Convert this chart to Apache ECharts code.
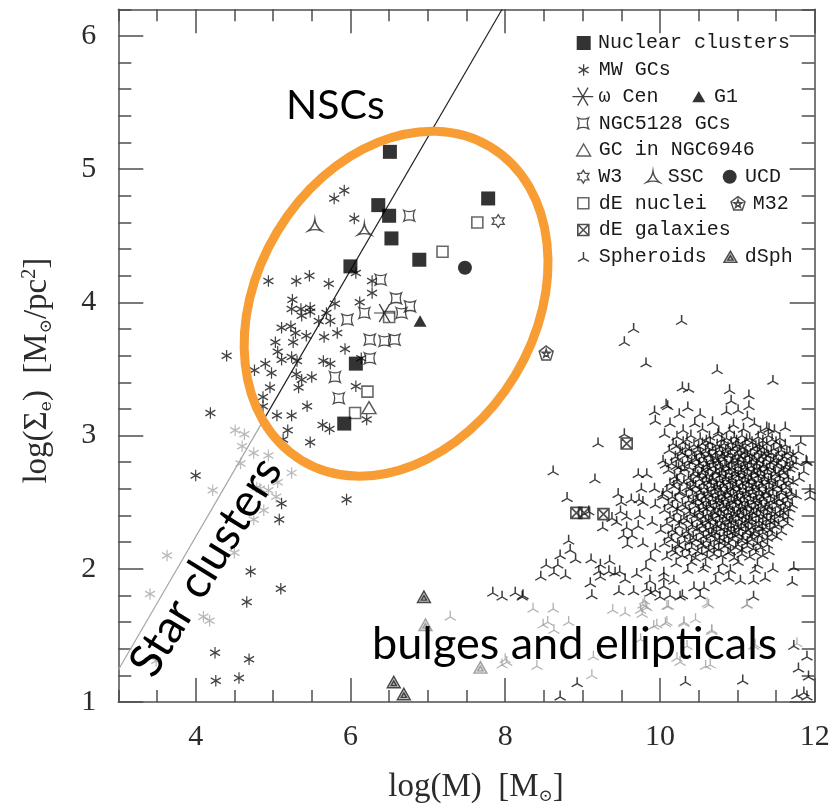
<!DOCTYPE html>
<html>
<head>
<meta charset="utf-8">
<script src="https://cdn.jsdelivr.net/npm/echarts@6/dist/echarts.min.js"></script>
<style>
  html, body { margin: 0; padding: 0; background: #fff; }
  #chart { width: 837px; height: 810px; }
</style>
</head>
<body>
<div id="chart"></div>
<script>
// ---- Data: log(M) [Msun] vs log(Sigma_e) [Msun/pc^2] ----
const nuclearClusters = [[6.51,5.13],[7.78,4.78],[6.36,4.73],[6.50,4.65],[6.53,4.48],[6.89,4.32],[6.00,4.27],[6.07,3.54],[5.92,3.09]];
const dENuclei = [[7.64,4.60],[7.19,4.38],[6.50,3.89],[6.22,3.33],[6.06,3.17]];
const gcNGC6946 = [[6.24,3.21]];
const g1 = [[6.90,3.86]];
const ucd = [[7.48,4.26]];
const w3 = [[7.91,4.61]];
const m32 = [[8.53,3.62]];
const omegaCen = [[6.44,3.92]];
const ssc = [[5.54,4.58],[6.18,4.55]];
const ngc5128GCs = [[6.76,4.65],[6.39,4.17],[6.59,4.03],[6.77,3.97],[6.18,3.92],[5.96,3.87],[6.66,3.92],[6.25,3.72],[6.44,3.71],[6.57,3.72],[6.25,3.58],[5.80,3.44],[5.85,3.28]];
const mwGCs = [
  [5.92,4.84],[5.79,4.78],[6.05,4.63],[4.94,4.16],[5.30,4.16],[5.47,4.20],[5.72,4.14],[6.07,4.22],[6.28,4.16],[6.28,4.07],[4.40,3.60],
  [5.25,4.02],[5.24,3.95],[5.36,3.95],[5.48,3.96],[5.37,3.90],[5.48,3.93],[5.80,3.99],[5.69,3.92],[5.59,3.86],[5.74,3.86],[6.12,4.00],
  [5.11,3.81],[5.29,3.77],[5.23,3.82],[5.43,3.75],[5.66,3.74],[5.83,3.77],[5.03,3.70],[5.26,3.70],[5.93,3.65],[5.11,3.57],[5.24,3.59],
  [5.31,3.56],[4.90,3.54],[4.76,3.49],[4.98,3.47],[5.65,3.56],[5.74,3.54],[5.30,3.46],[5.37,3.42],[5.50,3.44],[5.33,3.36],[4.96,3.36],
  [4.87,3.29],[4.87,3.22],[5.44,3.22],[5.05,3.15],[5.24,3.15],[6.07,3.37],[5.64,3.08],[5.73,3.05],[6.21,3.12],[5.19,3.04],[5.13,2.97],
  [5.48,2.95],[6.14,3.58],[5.06,3.63],
  [4.19,3.17],[4.00,2.70],[5.11,2.49],[5.08,2.37],[4.71,1.98],[5.10,1.85],[4.66,1.75],[4.25,1.37],[4.69,1.32],[4.26,1.16],[4.56,1.18],[5.95,2.52]
];
const youngClusters = [
  [4.51,3.04],[4.63,3.01],[4.60,2.92],[4.75,2.87],[4.94,2.85],[4.58,2.79],[4.22,2.59],[4.83,2.60],[4.94,2.59],[5.06,2.65],[5.04,2.54],
  [4.88,2.44],[4.75,2.37],[5.24,2.72],[4.50,2.12],[3.63,2.10],[3.41,1.81],[4.10,1.64],[4.18,1.61],[3.49,1.31],[4.79,2.61]
];
const dEGalaxies = [[9.57,2.94],[8.92,2.42],[9.02,2.42],[9.27,2.41]];
const dSph = [[6.95,1.79],[6.56,1.15],[6.69,1.06]];
const dSphFaint = [[6.97,1.58],[7.68,1.26]];
const spheroidsOuter = [
  [10.28,3.87],[9.66,3.81],[9.54,3.71],[9.82,3.55],[10.74,3.50],[11.46,3.42],[10.29,3.37],[10.37,3.36],[10.90,3.35],[11.15,3.31],
  [10.08,3.24],[9.93,3.19],[9.94,3.12],[10.06,3.02],[9.54,3.02],[9.20,2.95],[8.62,2.74],[9.16,2.68],[8.80,2.54],[10.04,2.82],
  [9.72,2.72],[9.83,2.72],[9.76,2.61],[9.93,2.61],[9.46,2.57],[9.50,2.51],[9.63,2.53],[9.73,2.53],[10.04,2.57],[9.78,2.51],
  [9.94,2.49],[9.08,2.44],[9.49,2.44],[9.38,2.39],[9.44,2.36],[9.57,2.40],[9.74,2.41],[9.26,2.32],[9.57,2.32],[9.72,2.33],
  [9.90,2.36],[10.01,2.30],[9.64,2.26],[9.53,2.26],[9.58,2.19],[9.78,2.20],[9.94,2.16],[8.82,2.22],[8.71,2.11],[8.84,2.15],
  [8.91,2.08],[8.53,2.04],[8.68,2.04],[8.63,1.98],[8.78,1.96],[8.46,1.95],[9.11,2.08],[9.23,2.04],[9.35,2.07],[9.21,1.99],
  [9.34,1.99],[9.42,1.98],[9.48,1.99],[9.10,1.90],[9.23,1.95],[9.55,1.93],[9.70,1.97],[9.82,2.02],[9.88,2.09],[10.05,1.98],
  [9.66,1.84],[9.47,1.84],[9.83,1.86],[10.05,1.88],[9.12,1.81],[8.23,1.81],
  [7.84,1.83],[7.96,1.80],[8.13,1.83],[8.22,1.80],[9.88,1.83],[10.00,1.80],[10.26,1.80],[10.52,1.81],[11.21,1.80],
  [8.93,1.15],[8.71,1.05],[10.33,1.16],[11.07,1.17],[11.77,1.06],[11.86,1.08],[11.90,1.05],[11.73,1.43],[11.79,1.26],[11.90,1.35],
  [11.92,1.20],[11.73,2.02],[11.71,1.91],[11.82,2.96],[11.90,2.81],[11.94,2.55],[11.62,3.07],[11.41,3.06],
  [10.92,3.27],[11.15,3.23],[11.01,3.20],[11.13,3.15],[10.10,3.23],[10.25,3.17],[10.36,3.22],[10.52,3.17],[10.86,3.19],[10.13,3.10],
  [11.38,3.07],[11.79,2.89],[11.89,2.82],[11.86,2.74],[11.94,2.60],[10.07,2.79],[10.24,2.77],[10.22,2.66],[10.03,2.55],
  [9.87,1.92],[10.05,1.94],[10.18,1.92],[9.94,1.85],[10.13,1.81],[10.29,1.81],[10.44,1.87],[10.57,1.87],[10.72,1.92],[10.89,1.94],
  [11.04,1.92],[11.21,1.92],[11.36,1.94],[10.91,2.00]
];
const spheroidsCore = [
  [10.45,3.10],[10.68,3.11],[10.95,3.09],[11.22,3.10],
  [10.30,3.05],[10.55,3.06],[10.76,3.04],[10.90,3.05],[11.08,3.06],[11.30,3.04],[11.48,3.05],
  [10.22,3.00],[10.40,3.01],[10.52,2.99],[10.64,3.00],[10.75,3.02],[10.86,2.99],[10.96,3.00],[11.06,3.01],[11.16,2.99],[11.27,3.00],[11.40,3.01],[11.55,2.99],
  [10.17,2.95],[10.30,2.96],[10.44,2.94],[10.55,2.95],[10.65,2.96],[10.74,2.94],[10.83,2.95],[10.92,2.96],[11.01,2.94],[11.10,2.95],[11.19,2.96],[11.28,2.94],[11.38,2.95],[11.50,2.96],[11.62,2.94],
  [10.12,2.90],[10.26,2.89],[10.38,2.91],[10.49,2.90],[10.59,2.89],[10.68,2.91],[10.77,2.90],[10.85,2.89],[10.94,2.91],[11.03,2.90],[11.11,2.89],[11.20,2.91],[11.29,2.90],[11.38,2.89],[11.47,2.91],[11.57,2.90],[11.68,2.89],
  [10.20,2.85],[10.33,2.86],[10.45,2.84],[10.54,2.85],[10.63,2.86],[10.72,2.84],[10.80,2.85],[10.88,2.86],[10.97,2.84],[11.05,2.85],[11.13,2.86],[11.22,2.84],[11.31,2.85],[11.40,2.86],[11.50,2.84],[11.61,2.85],[11.72,2.86],
  [10.15,2.80],[10.29,2.79],[10.41,2.81],[10.51,2.80],[10.60,2.79],[10.68,2.81],[10.76,2.80],[10.84,2.79],[10.92,2.81],[11.00,2.80],[11.08,2.79],[11.16,2.81],[11.25,2.80],[11.34,2.79],[11.43,2.81],[11.53,2.80],[11.64,2.79],[11.76,2.81],
  [10.11,2.75],[10.32,2.76],[10.46,2.74],[10.56,2.75],[10.64,2.76],[10.72,2.74],[10.81,2.75],[10.89,2.76],[10.97,2.74],[11.05,2.75],[11.13,2.76],[11.21,2.74],[11.29,2.75],[11.38,2.76],[11.47,2.74],[11.57,2.75],[11.68,2.76],
  [10.19,2.70],[10.37,2.69],[10.49,2.71],[10.59,2.70],[10.68,2.69],[10.77,2.71],[10.85,2.70],[10.93,2.69],[11.01,2.71],[11.09,2.70],[11.18,2.69],[11.26,2.71],[11.35,2.70],[11.44,2.69],[11.54,2.71],[11.65,2.70],[11.80,2.69],
  [10.13,2.65],[10.31,2.66],[10.43,2.64],[10.55,2.65],[10.64,2.66],[10.73,2.64],[10.81,2.65],[10.89,2.66],[10.98,2.64],[11.06,2.65],[11.14,2.66],[11.22,2.64],[11.31,2.65],[11.40,2.66],[11.49,2.64],[11.60,2.65],[11.72,2.66],
  [10.09,2.60],[10.26,2.59],[10.39,2.61],[10.51,2.60],[10.61,2.59],[10.70,2.61],[10.78,2.60],[10.86,2.59],[10.94,2.61],[11.02,2.60],[11.11,2.59],[11.19,2.61],[11.28,2.60],[11.37,2.59],[11.46,2.61],[11.57,2.60],[11.68,2.59],
  [10.16,2.55],[10.34,2.56],[10.47,2.54],[10.57,2.55],[10.66,2.56],[10.75,2.54],[10.83,2.55],[10.91,2.56],[10.99,2.54],[11.07,2.55],[11.15,2.56],[11.24,2.54],[11.32,2.55],[11.41,2.56],[11.51,2.54],[11.63,2.55],[11.76,2.56],
  [10.11,2.50],[10.29,2.49],[10.43,2.51],[10.54,2.50],[10.63,2.49],[10.72,2.51],[10.80,2.50],[10.88,2.49],[10.96,2.51],[11.04,2.50],[11.13,2.49],[11.21,2.51],[11.29,2.50],[11.38,2.49],[11.48,2.51],[11.59,2.50],[11.71,2.49],
  [10.06,2.45],[10.23,2.46],[10.38,2.44],[10.50,2.45],[10.60,2.46],[10.69,2.44],[10.77,2.45],[10.86,2.46],[10.94,2.44],[11.02,2.45],[11.10,2.46],[11.18,2.44],[11.27,2.45],[11.36,2.46],[11.45,2.44],[11.56,2.45],[11.68,2.46],
  [10.13,2.40],[10.31,2.39],[10.45,2.41],[10.56,2.40],[10.66,2.39],[10.75,2.41],[10.83,2.40],[10.92,2.39],[11.00,2.41],[11.08,2.40],[11.16,2.39],[11.25,2.41],[11.34,2.40],[11.44,2.39],[11.55,2.41],[11.66,2.40],
  [10.09,2.35],[10.27,2.36],[10.41,2.34],[10.53,2.35],[10.63,2.36],[10.72,2.34],[10.81,2.35],[10.90,2.36],[10.98,2.34],[11.06,2.35],[11.15,2.36],[11.24,2.34],[11.33,2.35],[11.43,2.36],[11.53,2.34],[11.65,2.35],
  [10.16,2.30],[10.34,2.29],[10.48,2.31],[10.59,2.30],[10.69,2.29],[10.79,2.31],[10.88,2.30],[10.96,2.29],[11.05,2.31],[11.14,2.30],[11.23,2.29],[11.32,2.31],[11.42,2.30],[11.57,2.29],
  [10.11,2.25],[10.29,2.26],[10.43,2.24],[10.56,2.25],[10.67,2.26],[10.77,2.24],[10.87,2.25],[10.97,2.26],[11.07,2.24],[11.17,2.25],[11.28,2.26],[11.39,2.24],[11.51,2.25],
  [10.06,2.20],[10.23,2.19],[10.39,2.21],[10.53,2.20],[10.65,2.19],[10.77,2.21],[10.89,2.20],[11.01,2.19],[11.13,2.21],[11.26,2.20],[11.39,2.19],
  [10.16,2.15],[10.33,2.16],[10.49,2.14],[10.63,2.15],[10.76,2.16],[10.91,2.14],[11.06,2.15],[11.21,2.16],[11.41,2.14],
  [10.09,2.10],[10.29,2.11],[10.46,2.09],[10.61,2.10],[10.79,2.11],[10.96,2.09],[11.16,2.10],[11.33,2.11],
  [10.21,2.05],[10.41,2.06],[10.59,2.04],[10.81,2.05],[11.01,2.06],[11.26,2.04],
  [10.36,2.00],[10.56,2.01],[10.76,1.99],[11.23,2.00],[11.46,2.01]
];
const spheroidsCoreInner = [
  [10.35,2.98],[10.60,2.97],[10.80,2.98],[10.99,2.97],[11.12,2.98],[11.33,2.97],[11.45,2.98],
  [10.21,2.93],[10.33,2.92],[10.50,2.93],[10.62,2.92],[10.79,2.93],[10.88,2.92],[10.98,2.93],[11.07,2.92],[11.24,2.93],[11.33,2.92],[11.55,2.93],
  [10.29,2.88],[10.41,2.87],[10.52,2.88],[10.64,2.87],[10.72,2.88],[10.81,2.87],[10.91,2.88],[11.00,2.87],[11.09,2.88],[11.17,2.87],[11.26,2.88],[11.35,2.87],[11.44,2.88],[11.53,2.87],[11.64,2.88],
  [10.23,2.83],[10.36,2.82],[10.47,2.83],[10.57,2.82],[10.66,2.83],[10.74,2.82],[10.83,2.83],[10.94,2.82],[11.02,2.83],[11.10,2.82],[11.19,2.83],[11.28,2.82],[11.37,2.83],[11.47,2.82],[11.58,2.83],[11.70,2.82],
  [10.21,2.78],[10.38,2.77],[10.50,2.78],[10.61,2.77],[10.69,2.78],[10.78,2.77],[10.86,2.78],[10.93,2.77],[11.01,2.78],[11.10,2.77],[11.18,2.78],[11.25,2.77],[11.33,2.78],[11.42,2.77],[11.51,2.78],[11.62,2.77],[11.72,2.78],
  [10.27,2.73],[10.43,2.72],[10.54,2.73],[10.62,2.72],[10.72,2.73],[10.80,2.72],[10.89,2.73],[10.97,2.72],[11.05,2.73],[11.13,2.72],[11.22,2.73],[11.30,2.72],[11.39,2.73],[11.49,2.72],[11.60,2.73],
  [10.22,2.68],[10.40,2.67],[10.51,2.68],[10.60,2.67],[10.68,2.68],[10.77,2.67],[10.85,2.68],[10.93,2.67],[11.02,2.68],[11.10,2.67],[11.18,2.68],[11.27,2.67],[11.35,2.68],[11.44,2.67],[11.55,2.68],[11.66,2.67],
  [10.18,2.63],[10.35,2.62],[10.46,2.63],[10.57,2.62],[10.66,2.63],[10.74,2.62],[10.82,2.63],[10.91,2.62],[10.99,2.63],[11.07,2.62],[11.15,2.63],[11.24,2.62],[11.32,2.63],[11.41,2.62],[11.52,2.63],[11.63,2.62],
  [10.25,2.58],[10.42,2.57],[10.53,2.58],[10.62,2.57],[10.71,2.58],[10.79,2.57],[10.87,2.58],[10.95,2.57],[11.03,2.58],[11.11,2.57],[11.20,2.58],[11.28,2.57],[11.37,2.58],[11.46,2.57],[11.57,2.58],[11.70,2.57],
  [10.20,2.53],[10.37,2.52],[10.49,2.53],[10.59,2.52],[10.68,2.53],[10.76,2.52],[10.84,2.53],[10.92,2.52],[11.00,2.53],[11.09,2.52],[11.17,2.53],[11.25,2.52],[11.34,2.53],[11.43,2.52],[11.54,2.53],[11.65,2.52],
  [10.16,2.48],[10.33,2.47],[10.46,2.48],[10.56,2.47],[10.65,2.48],[10.73,2.47],[10.82,2.48],[10.90,2.47],[10.98,2.48],[11.06,2.47],[11.14,2.48],[11.23,2.47],[11.31,2.48],[11.41,2.47],[11.51,2.48],[11.62,2.47],
  [10.22,2.43],[10.39,2.42],[10.51,2.43],[10.61,2.42],[10.71,2.43],[10.79,2.42],[10.88,2.43],[10.96,2.42],[11.04,2.43],[11.12,2.42],[11.21,2.43],[11.30,2.42],[11.39,2.43],[11.49,2.42],[11.60,2.43],
  [10.18,2.38],[10.35,2.37],[10.48,2.38],[10.59,2.37],[10.68,2.38],[10.77,2.37],[10.86,2.38],[10.94,2.37],[11.02,2.38],[11.11,2.37],[11.19,2.38],[11.28,2.37],[11.38,2.38],[11.48,2.37],[11.59,2.38],
  [10.25,2.33],[10.42,2.32],[10.55,2.33],[10.65,2.32],[10.74,2.33],[10.84,2.32],[10.92,2.33],[11.01,2.32],[11.10,2.33],[11.19,2.32],[11.28,2.33],[11.37,2.32],[11.48,2.33],
  [10.20,2.28],[10.37,2.27],[10.51,2.28],[10.63,2.27],[10.73,2.28],[10.83,2.27],[10.92,2.28],[11.02,2.27],[11.11,2.28],[11.21,2.27],[11.33,2.28],[11.45,2.27],
  [10.15,2.23],[10.32,2.22],[10.47,2.23],[10.60,2.22],[10.71,2.23],[10.83,2.22],[10.94,2.23],[11.06,2.22],[11.19,2.23],[11.32,2.22],
  [10.25,2.18],[10.41,2.17],[10.56,2.18],[10.70,2.17],[10.84,2.18],[10.98,2.17],[11.13,2.18],[11.30,2.17],
  [10.20,2.13],[10.38,2.12],[10.54,2.13],[10.70,2.12],[10.88,2.13],[11.06,2.12],[11.24,2.13]
];
const spheroidsFaint = [
  [8.36,1.71],[8.62,1.71],[8.82,1.61],[8.49,1.59],[8.55,1.61],[8.63,1.55],[9.39,1.70],[9.55,1.68],[8.00,1.33],[8.41,1.28],
  [9.12,1.21],[9.14,1.35],[9.75,1.48],[9.75,1.70],[9.78,1.74],[9.80,1.77],[9.83,1.72],[9.77,1.67],[10.11,1.73],[10.61,1.75],
  [11.12,1.74],[7.29,1.65],[9.92,1.58],[10.09,1.61],[10.31,1.61],[10.46,1.63],[10.67,1.55],[10.65,1.29],[10.22,1.34],[10.35,1.43],
  [7.96,1.29],[8.02,1.31],[11.21,1.43],[10.63,1.74],[11.13,1.74],[10.31,1.60],[9.96,1.59],[10.07,1.60],[10.26,1.31],[10.59,1.28],
  [10.67,1.54],[11.23,1.44],[11.77,1.45],[10.09,1.73],[9.81,1.73]
];
// Sigma ~ M relation drawn across the panel (faint below the break point)
const relationFaint = [[3.0,1.24],[4.85,3.09]];
const relationBright = [[4.85,3.09],[7.96,6.2]];

// Axis ticks and labels
const xMajor = [4, 6, 8, 10, 12];
const yMajor = [1, 2, 3, 4, 5, 6];

// ---- Marker shapes ----
const SYM = {
  square:    'path://M-10,-10L10,-10L10,10L-10,10Z',
  asterisk:  'path://M0,-10L0,10M-8.66,-5L8.66,5M-8.66,5L8.66,-5',
  omega:     'path://M-10,0L10,0M-5,-8.66L5,8.66M-5,8.66L5,-8.66',
  triangle:  'path://M0,-10L8.66,5L-8.66,5Z',
  astroid:   'path://M-10,-10Q0,-5 10,-10Q5,0 10,10Q0,5 -10,10Q-5,0 -10,-10Z',
  star6:     'path://M0,-10L2.89,-5L8.66,-5L5.77,0L8.66,5L2.89,5L0,10L-2.89,5L-8.66,5L-5.77,0L-8.66,-5L-2.89,-5Z',
  tri3:      'path://M0,-10Q1.2,-1 8.66,5Q0,1.8 -8.66,5Q-1.2,-1 0,-10Z',
  circle:    'path://M-10,0A10,10 0 1,0 10,0A10,10 0 1,0 -10,0Z',
  pentaStar: 'path://M0,-10L9.51,-3.09L5.88,8.09L-5.88,8.09L-9.51,-3.09ZM0,-6L3.53,4.85L-5.71,-1.85L5.71,-1.85L-3.53,4.85Z',
  boxX:      'path://M-10,-10L10,-10L10,10L-10,10ZM-10,-10L10,10M10,-10L-10,10',
  spheroid:  'path://M0,0L0,-10M0,0L-8.66,5M0,0L8.66,5',
  triNested: 'path://M0,-10L8.66,5L-8.66,5ZM0,-4L3.46,2L-3.46,2Z'
};
const NONE = 'rgba(0,0,0,0)';

// name -> marker definition (shape, size, style)
const markers = {
  'Nuclear clusters': { symbol: SYM.square, size: [14, 14], style: { color: '#000', borderColor: '#000', borderWidth: 0 } },
  'MW GCs':           { symbol: SYM.asterisk, size: [10, 11.5], style: { color: NONE, borderColor: '#111', borderWidth: 1.3 } },
  'ω Cen':            { symbol: SYM.omega, size: [21, 18], style: { color: NONE, borderColor: '#111', borderWidth: 1.3 } },
  'G1':               { symbol: SYM.triangle, size: [13, 11.5], style: { color: '#000', borderColor: '#000', borderWidth: 0 } },
  'NGC5128 GCs':      { symbol: SYM.astroid, size: [11, 11], style: { color: NONE, borderColor: '#222', borderWidth: 1.3 } },
  'GC in NGC6946':    { symbol: SYM.triangle, size: [14, 12], style: { color: NONE, borderColor: '#333', borderWidth: 1.4 } },
  'W3':               { symbol: SYM.star6, size: [12, 13], style: { color: NONE, borderColor: '#222', borderWidth: 1.3 } },
  'SSC':              { symbol: SYM.tri3, size: [13, 11.5], style: { color: NONE, borderColor: '#222', borderWidth: 1.4 } },
  'UCD':              { symbol: SYM.circle, size: [14, 14], style: { color: '#000', borderColor: '#000', borderWidth: 0 } },
  'dE nuclei':        { symbol: SYM.square, size: [11, 11], style: { color: NONE, borderColor: '#444', borderWidth: 1.6 } },
  'M32':              { symbol: SYM.pentaStar, size: [14, 14], style: { color: NONE, borderColor: '#222', borderWidth: 1.4 } },
  'dE galaxies':      { symbol: SYM.boxX, size: [11, 11], style: { color: NONE, borderColor: '#222', borderWidth: 1.6 } },
  'Spheroids':        { symbol: SYM.spheroid, size: [11, 9.5], style: { color: NONE, borderColor: '#0d0d0d', borderWidth: 1.4 } },
  'dSph':             { symbol: SYM.triNested, size: [13, 11.5], style: { color: 'rgba(0,0,0,0.3)', borderColor: '#222', borderWidth: 1.4 } }
};

function scatter(name, data, marker, extraStyle, z) {
  return {
    name: name,
    type: 'scatter',
    data: data,
    symbol: marker.symbol,
    symbolSize: marker.size,
    itemStyle: Object.assign({}, marker.style, extraStyle || {}),
    z: z || 3,
    silent: true,
    emphasis: { disabled: true }
  };
}

const series = [
  {
    name: 'relation faint', type: 'line', data: relationFaint, symbol: 'none', silent: true, z: 1,
    lineStyle: { color: '#a6a6a6', width: 1.2 }
  },
  {
    name: 'relation', type: 'line', data: relationBright, symbol: 'none', silent: true, z: 1,
    lineStyle: { color: '#222', width: 1.2 }
  },
  scatter('Young clusters', youngClusters, markers['MW GCs'], { borderColor: '#a8a8a8' }),
  scatter('Faint spheroids', spheroidsFaint, markers['Spheroids'], { borderColor: '#9c9c9c', borderWidth: 1.2 }),
  scatter('dSph faint', dSphFaint, markers['dSph'], { borderColor: '#8a8a8a', color: 'rgba(0,0,0,0.12)' }),
  scatter('Spheroids', spheroidsOuter.concat(spheroidsCore, spheroidsCoreInner), markers['Spheroids']),
  scatter('dSph', dSph, markers['dSph']),
  scatter('MW GCs', mwGCs, markers['MW GCs']),
  scatter('NGC5128 GCs', ngc5128GCs, markers['NGC5128 GCs']),
  scatter('GC in NGC6946', gcNGC6946, markers['GC in NGC6946']),
  scatter('dE nuclei', dENuclei, markers['dE nuclei']),
  scatter('dE galaxies', dEGalaxies, markers['dE galaxies']),
  scatter('SSC', ssc, markers['SSC']),
  scatter('W3', w3, markers['W3']),
  scatter('M32', m32, markers['M32']),
  scatter('ω Cen', omegaCen, markers['ω Cen'], null, 4),
  scatter('G1', g1, markers['G1'], null, 4),
  scatter('UCD', ucd, markers['UCD'], null, 4),
  scatter('Nuclear clusters', nuclearClusters, markers['Nuclear clusters'], null, 5)
];

// ---- Legend slots (icon centre, text start) ----
const legendSlots = [
  { name: 'Nuclear clusters', cx: 583.7, cy: 43,    textX: 598 },
  { name: 'MW GCs',           cx: 583.0, cy: 70,    textX: 598 },
  { name: 'ω Cen',            cx: 582.3, cy: 96.7,  textX: 598 },
  { name: 'G1',               cx: 698.8, cy: 96.7,  textX: 714 },
  { name: 'NGC5128 GCs',      cx: 582.5, cy: 123.3, textX: 598 },
  { name: 'GC in NGC6946',    cx: 583.0, cy: 150,   textX: 598 },
  { name: 'W3',               cx: 583.0, cy: 176.7, textX: 598 },
  { name: 'SSC',              cx: 652.3, cy: 176.7, textX: 667 },
  { name: 'UCD',              cx: 729.7, cy: 176.7, textX: 745 },
  { name: 'dE nuclei',        cx: 582.5, cy: 203.3, textX: 598 },
  { name: 'M32',              cx: 737.3, cy: 203.3, textX: 752 },
  { name: 'dE galaxies',      cx: 582.5, cy: 230,   textX: 598 },
  { name: 'Spheroids',        cx: 582.8, cy: 256.7, textX: 598 },
  { name: 'dSph',             cx: 729.7, cy: 256.7, textX: 744 }
];

const legends = legendSlots.map(function (s) {
  const m = markers[s.name];
  const w = m.size[0], h = m.size[1];
  return {
    data: [{ name: s.name, icon: m.symbol }],
    left: s.cx - w / 2,
    top: s.cy - 10,
    padding: 0,
    itemWidth: w,
    itemHeight: h,
    selectedMode: false,
    itemStyle: Object.assign({}, m.style),
    textStyle: {
      fontFamily: 'Liberation Mono', fontSize: 20, lineHeight: 20, color: '#1a1a1a',
      padding: [0, 0, 0, s.textX - (s.cx + w / 2 + 5)]
    }
  };
});

// ---- Axes ----
const axisColor = '#4d4d4d';
const tickLine = { color: axisColor, width: 1.5 };
const labelFont = { fontFamily: 'Liberation Serif', fontSize: 30, color: '#2b2b2b' };
const nameFont = { fontFamily: 'Liberation Serif', fontSize: 33, color: '#2b2b2b' };
const nameRich = {
  s: { fontFamily: 'DejaVu Serif', fontSize: 17, lineHeight: 12, verticalAlign: 'bottom', color: '#2b2b2b' },
  p: { fontFamily: 'Liberation Serif', fontSize: 20, lineHeight: 15, verticalAlign: 'top', color: '#2b2b2b' }
};

function xAxisDef(position, major) {
  return {
    type: 'value', min: 3, max: 12, position: position, gridIndex: 0,
    splitLine: { show: false },
    interval: major ? undefined : 0.5,
    axisLine: { show: !major, lineStyle: tickLine },
    axisTick: major
      ? { inside: true, length: 24, customValues: xMajor, lineStyle: tickLine }
      : { inside: true, length: 12, lineStyle: tickLine },
    axisLabel: (major && position === 'bottom')
      ? Object.assign({ customValues: xMajor, margin: 20 }, labelFont)
      : { show: false }
  };
}
function yAxisDef(position, major) {
  return {
    type: 'value', min: 1, max: 6.2, position: position, gridIndex: 0,
    splitLine: { show: false },
    interval: major ? undefined : 0.2,
    axisLine: { show: !major, lineStyle: tickLine },
    axisTick: major
      ? { inside: true, length: 25, customValues: yMajor, lineStyle: tickLine }
      : { inside: true, length: 13, lineStyle: tickLine },
    axisLabel: (major && position === 'left')
      ? Object.assign({ customValues: yMajor, margin: 22 }, labelFont)
      : { show: false }
  };
}

const xAxes = [xAxisDef('bottom', false), xAxisDef('bottom', true), xAxisDef('top', false), xAxisDef('top', true)];
Object.assign(xAxes[1], {
  name: 'log(M)  [M{s|⊙}]',
  nameLocation: 'middle',
  nameGap: 67,
  nameTextStyle: Object.assign({ lineHeight: 36, padding: [0, 0, 0, 19], rich: nameRich }, nameFont)
});
const yAxes = [yAxisDef('left', false), yAxisDef('left', true), yAxisDef('right', false), yAxisDef('right', true)];
Object.assign(yAxes[1], {
  name: 'log(Σ{s|e})  [M{s|⊙}/pc{p|2}]',
  nameLocation: 'middle',
  nameGap: 63,
  nameTextStyle: Object.assign({ lineHeight: 36, padding: [0, 30, 0, 0], rich: nameRich }, nameFont)
});

const chart = echarts.init(document.getElementById('chart'), null, { renderer: 'canvas' });
chart.setOption({
  animation: false,
  backgroundColor: '#ffffff',
  grid: { left: 118.3, right: 22.3, top: 9.3, bottom: 104.4, containLabel: false },
  xAxis: xAxes,
  yAxis: yAxes,
  legend: legends,
  series: series
});

// ---- Annotations: ellipse round the nuclear star clusters, region labels ----
const ellipseCentre = chart.convertToPixel({ xAxisIndex: 0, yAxisIndex: 0 }, [6.59, 3.99]);
chart.setOption({
  graphic: [
    {
      type: 'ellipse', z: 50, silent: true,
      x: ellipseCentre[0], y: ellipseCentre[1],
      rotation: 59 * Math.PI / 180,
      shape: { cx: 0, cy: 0, rx: 183, ry: 139 },
      style: { fill: 'none', stroke: '#F89C34', lineWidth: 9 }
    },
    {
      type: 'text', z: 60, silent: true, x: 286, y: 106,
      style: { text: 'NSCs', font: '41px Lato', fill: '#000', align: 'left', verticalAlign: 'middle' }
    },
    {
      type: 'text', z: 60, silent: true, x: 206, y: 567, rotation: 58.4 * Math.PI / 180,
      style: { text: 'Star clusters', font: '46px Lato', fill: '#000', align: 'center', verticalAlign: 'middle' }
    },
    {
      type: 'text', z: 60, silent: true, x: 372, y: 644,
      style: { text: 'bulges and ellipticals', font: '45px Lato', fill: '#000', align: 'left', verticalAlign: 'middle' }
    }
  ]
});
</script>
</body>
</html>
